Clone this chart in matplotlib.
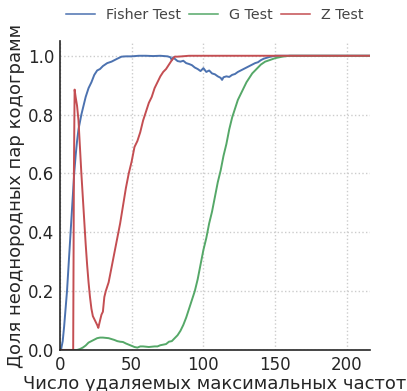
import matplotlib
matplotlib.use("Agg")
import matplotlib.pyplot as plt

# Fisher test
fisher_x = [0, 1, 2, 3, 4, 5, 6, 7, 8, 9, 10, 11, 12, 13, 14, 15, 16, 18, 20, 22, 24,
            26, 28, 30, 33, 36, 40, 43, 46, 50, 55, 60, 65, 70, 75, 77, 78, 79, 80, 82,
            84, 86, 88, 90, 92, 94, 96, 98, 100, 102, 104, 106, 108, 110, 112, 113, 114,
            116, 118, 120, 122, 124, 126, 128, 130, 132, 134, 136, 138, 140, 142, 144,
            146, 148, 150, 155, 160, 216]
fisher_y = [0.0, 0.005, 0.03, 0.08, 0.14, 0.2, 0.28, 0.36, 0.44, 0.52, 0.6, 0.66, 0.71,
            0.75, 0.775, 0.8, 0.82, 0.86, 0.89, 0.91, 0.935, 0.95, 0.955, 0.965, 0.975,
            0.98, 0.99, 0.997, 0.998, 0.998, 1.0, 1.0, 0.999, 1.0, 0.998, 0.995, 0.985,
            0.995, 0.99, 0.982, 0.98, 0.983, 0.975, 0.972, 0.968, 0.96, 0.955, 0.948,
            0.958, 0.945, 0.95, 0.94, 0.937, 0.93, 0.925, 0.918, 0.927, 0.93, 0.928,
            0.935, 0.938, 0.945, 0.95, 0.955, 0.96, 0.965, 0.97, 0.975, 0.978, 0.985,
            0.99, 0.993, 0.996, 0.998, 1.0, 1.0, 1.0, 1.0]

# G test
g_x = [0, 12, 14, 16, 18, 20, 22, 24, 26, 28, 30, 32, 34, 36, 38, 40, 42, 44, 46, 48,
       50, 52, 54, 56, 58, 60, 62, 64, 66, 68, 70, 72, 74, 76, 78, 80, 82, 84, 86, 88,
       90, 92, 94, 96, 98, 100, 102, 104, 106, 108, 110, 112, 114, 116, 118, 120, 122,
       124, 126, 128, 130, 132, 134, 136, 138, 140, 143, 146, 150, 155, 160, 165, 216]
g_y = [0.0, 0.0, 0.003, 0.008, 0.015, 0.025, 0.03, 0.035, 0.04, 0.042, 0.042, 0.041,
       0.04, 0.037, 0.034, 0.03, 0.028, 0.027, 0.022, 0.018, 0.014, 0.01, 0.008, 0.012,
       0.012, 0.011, 0.01, 0.011, 0.012, 0.012, 0.016, 0.018, 0.02, 0.028, 0.03, 0.04,
       0.05, 0.065, 0.085, 0.11, 0.14, 0.17, 0.2, 0.24, 0.29, 0.34, 0.38, 0.43, 0.47,
       0.52, 0.57, 0.61, 0.66, 0.7, 0.75, 0.79, 0.82, 0.85, 0.87, 0.89, 0.91, 0.925,
       0.94, 0.95, 0.96, 0.97, 0.98, 0.985, 0.992, 0.997, 1.0, 1.0, 1.0]

# Z test
z_x = [0, 9.3, 9.8, 10.3, 11, 12, 13, 14, 15, 16, 17, 18, 19, 20, 21, 22, 23, 24, 25,
       26, 26.8, 28, 29, 30, 31, 32, 34, 36, 38, 40, 42, 44, 46, 48, 50, 52, 54, 56, 58,
       60, 62, 64, 66, 68, 70, 72, 74, 76, 78, 80, 82, 85, 90, 216]
z_y = [0.0, 0.0, 0.6, 0.885, 0.86, 0.83, 0.78, 0.69, 0.6, 0.52, 0.44, 0.36, 0.29, 0.23,
       0.18, 0.14, 0.115, 0.105, 0.095, 0.085, 0.075, 0.1, 0.12, 0.13, 0.18, 0.2, 0.23,
       0.28, 0.33, 0.38, 0.43, 0.49, 0.55, 0.6, 0.64, 0.69, 0.71, 0.74, 0.78, 0.81,
       0.84, 0.86, 0.89, 0.91, 0.93, 0.945, 0.955, 0.97, 0.985, 0.997, 0.997, 0.998,
       1.0, 1.0]

fig = plt.figure(figsize=(4.07, 3.91), dpi=100)
ax = fig.add_axes([0.147, 0.105, 0.762, 0.79])

ax.plot(fisher_x, fisher_y, color="#4C72B0", lw=1.4, label="Fisher Test")
ax.plot(g_x, g_y, color="#55A868", lw=1.4, label="G Test")
ax.plot(z_x, z_y, color="#C44E52", lw=1.4, label="Z Test")

ax.set_xlim(0, 216)
ax.set_ylim(0, 1.05)
ax.set_xticks([0, 50, 100, 150, 200])
ax.set_yticks([0.0, 0.2, 0.4, 0.6, 0.8, 1.0])
ax.grid(True, linestyle=":", color="#cccccc", lw=1)
ax.tick_params(length=0, labelsize=12, pad=4, colors="#262626")
for s in ["top", "right"]:
    ax.spines[s].set_visible(False)
for s in ["left", "bottom"]:
    ax.spines[s].set_color("#262626")
    ax.spines[s].set_linewidth(1.2)

ax.set_xlabel("Число удаляемых максимальных частот", fontsize=13, color="#262626", labelpad=1)
ax.set_ylabel("Доля неоднородных пар кодограмм", fontsize=13, color="#262626", labelpad=2)

leg = ax.legend(loc="lower center", bbox_to_anchor=(0.5, 1.0), ncol=3, frameon=False,
                fontsize=10.3, handlelength=2.0, handletextpad=0.8, columnspacing=0.55,
                borderaxespad=0.9)
for t in leg.get_texts():
    t.set_color("#444444")
for h in leg.get_lines():
    h.set_linewidth(1.1)

fig.savefig("out.png", dpi=100)
